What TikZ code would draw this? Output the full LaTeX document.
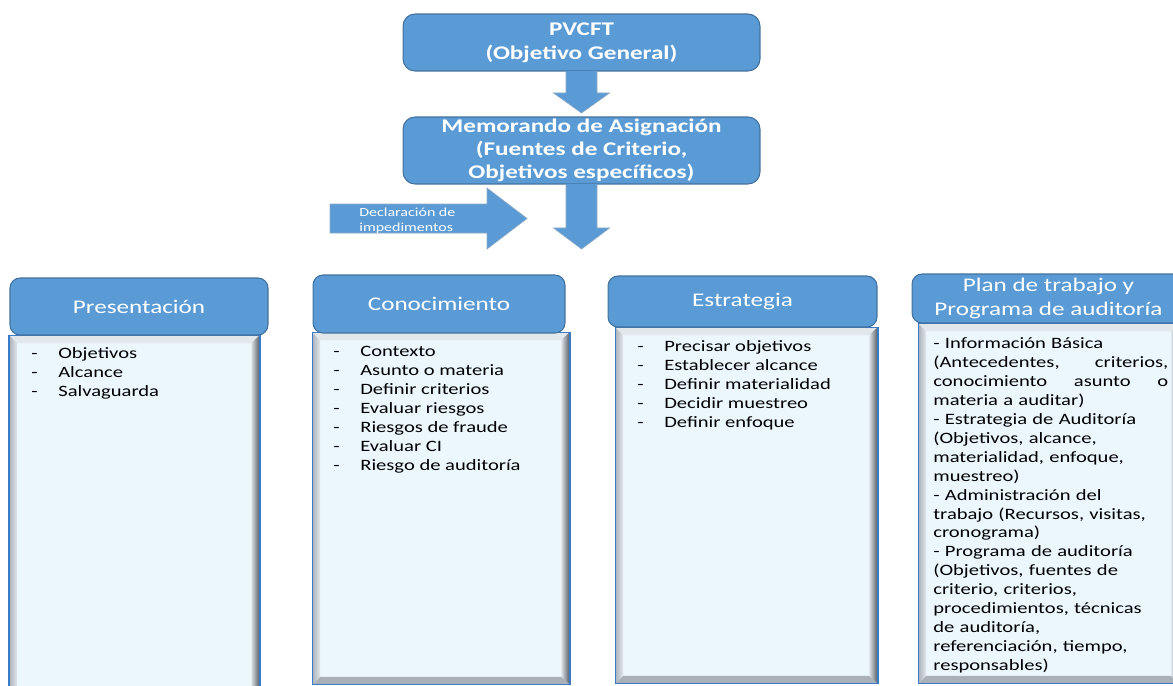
\documentclass[tikz,border=0pt]{standalone}
\usepackage{fontspec}
\setmainfont{Carlito}[FakeStretch=1.3]
\usetikzlibrary{calc}
\definecolor{hdrfill}{HTML}{5B9BD5}
\definecolor{hdrline}{HTML}{41719C}
\definecolor{bodyfill}{HTML}{EBF7FD}
\definecolor{bodyline}{HTML}{3A7BC8}
\definecolor{bevlight}{HTML}{E2E7EC}
\definecolor{bevmid}{HTML}{A9B0B8}
\definecolor{bevdark}{HTML}{4F555B}
\newcommand\bevelframe[1]{%
  \fill[bevlight] (#1.north west) -- (#1.north east) -- ($(#1.north east)+(-9,8)$) -- ($(#1.north west)+(8,8)$) -- cycle;
  \shade[left color=bevmid, right color=bevlight] (#1.north west) -- ($(#1.north west)+(8,8)$) -- ($(#1.south west)+(8,-8)$) -- (#1.south west) -- cycle;
  \shade[left color=bevlight, right color=bevdark] (#1.north east) -- ($(#1.north east)+(-9,8)$) -- ($(#1.south east)+(-9,-8)$) -- (#1.south east) -- cycle;
  \fill[bevmid] (#1.south west) -- ($(#1.south west)+(8,-8)$) -- ($(#1.south east)+(-9,-8)$) -- (#1.south east) -- cycle;
  \draw[bodyline, line width=0.6pt] (#1.north west) rectangle (#1.south east);
}
\newcommand\itm[1]{\makebox[0.54cm][l]{-}#1}
\tikzset{
  topbox/.style={rectangle, rounded corners=0.24cm, fill=hdrfill, draw=hdrline, line width=0.6pt,
    text=white, align=center, minimum width=7.14cm, inner sep=0pt, outer sep=0pt},
  hdrbox/.style={rectangle, rounded corners=0.2cm, fill=hdrfill, draw=hdrline, line width=0.6pt,
    text=white, align=center, inner sep=0pt, outer sep=0pt,
    font=\fontsize{11}{13}\selectfont},
  bodybox/.style={rectangle, fill=bodyfill, draw=none, inner sep=0pt, outer sep=0pt},
  listtext/.style={align=left, inner sep=0pt, anchor=north west, font=\fontsize{9}{10.8}\selectfont},
  arrowshape/.style={fill=hdrfill, draw=hdrline!60, line width=0.4pt},
}
\begin{document}
\begin{tikzpicture}[x=0.02cm,y=-0.02cm]
\useasboundingbox (0,0) rectangle (1173,686);
\clip (0,0) rectangle (1173,686);

% top boxes
\node[topbox, minimum height=1.14cm, font=\bfseries\fontsize{11}{13.6}\selectfont] (pvcft) at (581.5,42.5) {PVCFT\\(Objetivo General)};
\node[topbox, minimum height=1.34cm, font=\bfseries\fontsize{11}{13}\selectfont] (memo) at (581.5,150.5) {Memorando de Asignación\\(Fuentes de Criterio,\\Objetivos específicos)};

% block arrows
\coordinate (a2tip) at (581.5,249);
\coordinate (a3tail) at (330,218.5);
\coordinate (a3tip) at (527,218.5);
\filldraw[arrowshape] ($(pvcft.south)+(-15.5,0)$) -- ($(pvcft.south)+(-15.5,22)$) -- ($(pvcft.south)+(-28,22)$) -- ($(memo.north)+(0,-4)$) -- ($(pvcft.south)+(28,22)$) -- ($(pvcft.south)+(15.5,22)$) -- ($(pvcft.south)+(15.5,0)$);
\filldraw[arrowshape] ($(memo.south)+(-15.5,0)$) -- ($(memo.south)+(-15.5,44)$) -- ($(memo.south)+(-28,44)$) -- (a2tip) -- ($(memo.south)+(28,44)$) -- ($(memo.south)+(15.5,44)$) -- ($(memo.south)+(15.5,0)$);
\filldraw[arrowshape] ($(a3tail)+(0,-14.5)$) -- ($(a3tip)+(-40,-14.5)$) -- ($(a3tip)+(-40,-30.5)$) -- (a3tip) -- ($(a3tip)+(-40,30.5)$) -- ($(a3tip)+(-40,14.5)$) -- ($(a3tail)+(0,14.5)$) -- cycle;
\node[anchor=west, align=left, inner sep=0pt, text=white, font=\fontsize{7}{8.5}\selectfont] (decl) at (359,220.5) {Declaración de\\impedimentos};

% bodies
\node[bodybox, minimum width=5.02cm, minimum height=7.3cm] (presb) at (134.5,517.5) {};
\bevelframe{presb}
\node[bodybox, minimum width=5.16cm, minimum height=7.06cm] (conob) at (441,508.5) {};
\bevelframe{conob}
\node[bodybox, minimum width=5.26cm, minimum height=7.14cm] (estrb) at (746.5,505.5) {};
\bevelframe{estrb}
\node[bodybox, minimum width=5.24cm, minimum height=7.22cm] (planb) at (1049,503.5) {};
\bevelframe{planb}

% headers
\node[hdrbox, minimum width=5.16cm, minimum height=1.14cm] (pres) at (139,306.5) {Presentación};
\node[hdrbox, minimum width=5.04cm, minimum height=1.16cm] (cono) at (439,304) {Conocimiento};
\node[hdrbox, minimum width=5.38cm, minimum height=1.02cm] (estr) at (742.5,301.5) {Estrategia};
\node[hdrbox, minimum width=5.46cm, minimum height=0.98cm, font=\fontsize{11}{13.4}\selectfont] (plan) at (1048.5,298.5) {Plan de trabajo y\\Programa de auditoría};

% lists
\node[listtext] (presl) at (31,347) {\itm{Objetivos}\\\itm{Alcance}\\\itm{Salvaguarda}};
\node[listtext] (conol) at (333,346) {\itm{Contexto}\\\itm{Asunto o materia}\\\itm{Definir criterios}\\\itm{Evaluar riesgos}\\\itm{Riesgos de fraude}\\\itm{Evaluar CI}\\\itm{Riesgo de auditoría}};
\node[listtext] (estrl) at (637,340) {\itm{Precisar objetivos}\\\itm{Establecer alcance}\\\itm{Definir materialidad}\\\itm{Decidir muestreo}\\\itm{Definir enfoque}};
\node[listtext, text width=4.7cm] (planl) at (933,337) {- Información Básica\\
(Antecedentes,\hfill criterios,\\
conocimiento\hfill asunto\hfill o\\
materia a auditar)\\
- Estrategia de Auditoría\\
(Objetivos, alcance,\\
materialidad, enfoque,\\
muestreo)\\
- Administración del\\
trabajo (Recursos, visitas,\\
cronograma)\\
- Programa de auditoría\\
(Objetivos, fuentes de\\
criterio, criterios,\\
procedimientos, técnicas\\
de auditoría,\\
referenciación, tiempo,\\
responsables)};
\end{tikzpicture}
\end{document}
